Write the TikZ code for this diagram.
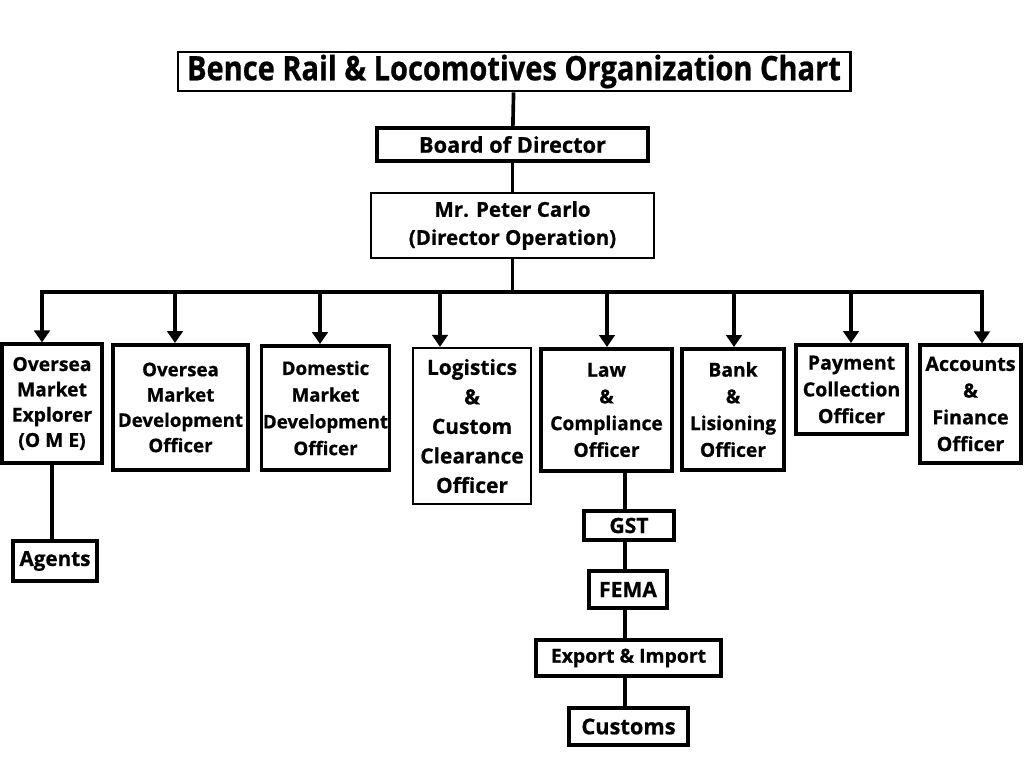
\documentclass[tikz,border=0pt]{standalone}
\usepackage{fontspec}
\setmainfont{Open Sans}[BoldFeatures={FakeBold=0.7}]
\usetikzlibrary{arrows.meta}

\tikzstyle{chart}=[x=0.025cm, y=-0.025cm]
\tikzstyle{post}=[draw, line width=2.2pt, fill=white, align=center, inner sep=1pt, font=\fontsize{13.7}{19}\selectfont\bfseries]
\tikzstyle{link}=[line width=2.6pt]
\tikzstyle{drop}=[line width=2.6pt, -{Triangle[length=8.5pt,width=11pt]}]

\begin{document}
\begin{tikzpicture}[style=chart]
\useasboundingbox (0,0) rectangle (1024,768);

% top of the chart
\node[post, line width=2pt, minimum width=16.8cm, minimum height=0.975cm, font=\fontsize{24}{26}\selectfont\bfseries] (title) at (514,71.5) {\scalebox{0.86}[1]{Bence Rail \& Locomotives Organization Chart}};
\node[post, line width=2.8pt, minimum width=6.775cm, minimum height=0.825cm, font=\fontsize{15.5}{19}\selectfont\bfseries] (board) at (512.5,144.5) {Board of Director};
\node[post, line width=1.5pt, minimum width=7.075cm, minimum height=1.625cm, font=\fontsize{14.6}{20}\selectfont\bfseries] (peter) at (512.5,225.5) {Mr. Peter Carlo\\(Director Operation)};

\draw[link] (title) -- (board);
\draw[link] (board) -- (peter);

% officers
\node[post, minimum width=2.5cm, minimum height=2.975cm, font=\fontsize{13.7}{18}\selectfont\bfseries] (ome) at (52,403.5) {Oversea\\Market\\Explorer\\(O M E)};
\node[post, line width=2.8pt, minimum width=3.375cm, minimum height=3.125cm, font=\fontsize{13.3}{18}\selectfont\bfseries] (omdo) at (180.5,407.5) {Oversea\\Market\\Development\\Officer};
\node[post, line width=2.8pt, minimum width=3.175cm, minimum height=3.1cm, font=\fontsize{13.3}{19}\selectfont\bfseries] (dmdo) at (325.5,408) {Domestic\\Market\\Development\\Officer};
\node[post, line width=1.6pt, minimum width=2.95cm, minimum height=3.9cm, font=\fontsize{14.9}{21}\selectfont\bfseries] (lcco) at (472,426) {Logistics\\\&\\Custom\\Clearance\\Officer};
\node[post, line width=2.8pt, minimum width=3.275cm, minimum height=3.05cm] (lco) at (606.5,410) {Law\\\&\\Compliance\\Officer};
\node[post, line width=2.8pt, minimum width=2.55cm, minimum height=3.025cm] (blo) at (733,409.5) {Bank\\\&\\Lisioning\\Officer};
\node[post, line width=2.8pt, minimum width=2.775cm, minimum height=2.225cm, font=\fontsize{13.9}{19}\selectfont\bfseries] (pco) at (851.5,389.5) {Payment\\Collection\\Officer};
\node[post, minimum width=2.525cm, minimum height=2.95cm, font=\fontsize{14}{19}\selectfont\bfseries] (afo) at (970.5,404) {Accounts\\\&\\Finance\\Officer};

% bus and arrows
\coordinate (busL) at (42,292);
\coordinate (busR) at (982,292);
\draw[link] (peter.south) -- (peter.south |- busL);
\draw[link, line cap=rect] (busL) -- (busR);
\coordinate (d2) at (175,292);
\coordinate (d3) at (320,292);
\coordinate (d4) at (440,292);
\coordinate (d5) at (607,292);
\coordinate (d6) at (734,292);
\coordinate (d7) at (851,292);
\draw[drop] (busL) -- (busL |- ome.north);
\draw[drop] (d2) -- (d2 |- omdo.north);
\draw[drop] (d3) -- (d3 |- dmdo.north);
\draw[drop] (d4) -- (d4 |- lcco.north);
\draw[drop] (d5) -- (d5 |- lco.north);
\draw[drop] (d6) -- (d6 |- blo.north);
\draw[drop] (d7) -- (d7 |- pco.north);
\draw[drop] (busR) -- (busR |- afo.north);

% below the officers
\node[post, line width=2.8pt, minimum width=2.1cm, minimum height=1cm, font=\fontsize{14.7}{18}\selectfont\bfseries] (agents) at (55,561) {Agents};
\draw[link] (ome.south) -- (ome.south |- agents.north);

\node[post, minimum width=2.25cm, minimum height=0.725cm, font=\fontsize{15}{18}\selectfont\bfseries] (gst) at (629,525.5) {GST};
\node[post, line width=2.8pt, minimum width=1.95cm, minimum height=0.925cm, font=\fontsize{15}{18}\selectfont\bfseries] (fema) at (628,589.5) {FEMA};
\node[post, line width=2.8pt, minimum width=4.625cm, minimum height=0.9cm, font=\fontsize{13.8}{18}\selectfont\bfseries] (exim) at (628.5,658) {Export \& Import};
\node[post, line width=2.8pt, minimum width=2.975cm, minimum height=0.925cm, font=\fontsize{15.5}{18}\selectfont\bfseries] (customs) at (628.5,726.5) {Customs};

\coordinate (spine) at (625,471);
\draw[link] (spine) -- (spine |- gst.north);
\draw[link] (spine |- gst.south) -- (spine |- fema.north);
\draw[link] (spine |- fema.south) -- (spine |- exim.north);
\draw[link] (spine |- exim.south) -- (spine |- customs.north);
\end{tikzpicture}
\end{document}
